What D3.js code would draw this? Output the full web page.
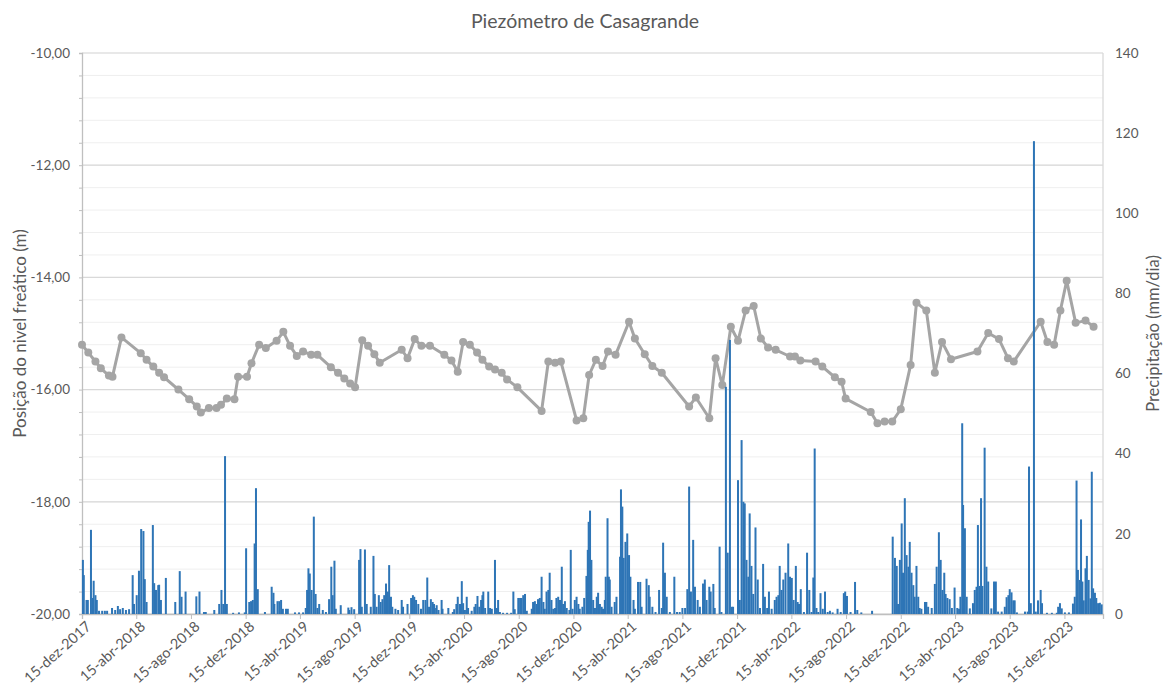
<!DOCTYPE html>
<html>
<head>
<meta charset="utf-8">
<script src="https://cdn.jsdelivr.net/npm/d3@7"></script>
<style>
body { margin: 0; background: #fff; }
text { font-family: Lato, "Noto Sans", sans-serif; fill: #595959; }
</style>
</head>
<body>
<svg id="chart" width="1163" height="687"></svg>
<script>
// Nível freático: [dias desde 15-dez-2017, posição (m)]
const nivel = [
	[0,-15.20],[14,-15.34],[30,-15.50],[42,-15.62],[60,-15.75],[68,-15.77],[88,-15.07],
	[131,-15.35],[144,-15.47],[159,-15.59],[172,-15.70],[183,-15.78],
	[215,-16.00],[239,-16.17],[256,-16.30],[265,-16.41],[283,-16.33],[300,-16.33],[310,-16.27],[323,-16.16],[340,-16.17],
	[348,-15.77],[368,-15.77],[378,-15.53],[395,-15.20],[410,-15.26],[434,-15.13],[449,-14.97],
	[464,-15.22],[479,-15.40],[493,-15.32],[511,-15.38],[525,-15.38],
	[555,-15.60],[571,-15.70],[585,-15.80],[598,-15.89],[609,-15.96],
	[625,-15.12],[638,-15.22],[652,-15.37],[664,-15.52],
	[713,-15.29],[726,-15.44],[742,-15.10],[757,-15.22],[776,-15.22],
	[808,-15.38],[824,-15.48],[838,-15.68],[850,-15.15],
	[865,-15.20],[881,-15.34],[893,-15.47],[908,-15.59],[921,-15.64],[936,-15.70],[948,-15.82],[971,-15.96],
	[1025,-16.38],[1040,-15.50],[1055,-15.52],[1068,-15.50],
	[1103,-16.55],[1118,-16.51],[1131,-15.74],[1146,-15.47],[1161,-15.58],[1173,-15.32],[1190,-15.38],
	[1220,-14.79],[1233,-15.09],[1255,-15.37],[1272,-15.58],[1293,-15.70],
	[1354,-16.30],[1369,-16.14],[1399,-16.51],[1413,-15.44],[1428,-15.92],
	[1447,-14.88],[1463,-15.13],[1480,-14.59],[1498,-14.51],[1514,-15.09],[1530,-15.25],[1547,-15.29],
	[1579,-15.41],[1590,-15.41],[1602,-15.48],[1636,-15.50],[1651,-15.59],[1679,-15.78],[1694,-15.86],[1703,-16.16],
	[1759,-16.40],[1774,-16.60],[1790,-16.57],[1807,-16.57],[1826,-16.35],
	[1848,-15.56],[1861,-14.45],[1883,-14.59],[1902,-15.70],[1918,-15.15],[1938,-15.46],
	[1997,-15.32],[2021,-14.99],[2045,-15.10],[2065,-15.44],[2078,-15.50],
	[2138,-14.79],[2153,-15.15],[2168,-15.20],[2182,-14.59],[2196,-14.06],[2216,-14.81],[2238,-14.77],[2256,-14.88]
];

// Precipitação diária: [dias desde 15-dez-2017, mm/dia]
const chuva = [
	[2,13.5],[4,9.7],[10,3.5],[13,3.5],[20,21],[24,4],[26,8.3],[30,4.7],[33,3.5],[38,0.8],[45,0.8],[51,0.8],[56,0.8],
	[67,1.5],[74,1],[80,2],[85,1.2],[91,1.5],[98,1],[105,1.2],[113,9.7],[116,2.5],[122,4.7],[127,10.8],[132,21.2],
	[137,20.7],[140,8.7],[144,3],[158,22.2],[161,7.7],[165,6],[170,7.2],[172,7.3],[176,3.5],[187,9],[208,3],[218,10.7],
	[222,4.3],[231,5.6],[255,4.4],[262,5.6],[272,0.5],[276,0.5],[295,1],[306,2.5],[311,6],[315,2.5],[319,39.4],[323,2.5],
	[337,0.3],[350,0.4],[363,0.4],[366,16.4],[373,3],[377,3.2],[381,3.5],[385,17.6],[388,31.4],[392,6.2],[408,0.5],
	[423,6.8],[427,5.3],[429,2.5],[436,3.2],[440,3.2],[444,3.5],[448,1.3],[455,1.3],[459,1.3],[475,0.4],[484,0.4],
	[493,0.4],[499,1.5],[502,6],[505,11.4],[508,10.1],[512,6],[517,24.3],[521,5],[525,1.5],[529,2.5],[537,1],[544,0.5],
	[551,3.7],[556,11.8],[559,4.7],[563,13.3],[566,1.3],[577,2.2],[594,1.6],[596,1],[601,1.7],[607,1.2],[618,13.5],
	[621,16.2],[624,1.8],[631,16.1],[635,2.5],[644,1.8],[650,14.5],[653,5],[657,1.8],[662,4.7],[666,3],[670,3.7],
	[674,4.7],[678,7.6],[682,5.6],[685,12.2],[689,4.3],[692,1.8],[699,1.3],[705,1],[713,3.5],[716,1.8],[726,2.5],
	[734,4],[738,4.7],[741,4.3],[745,3.5],[750,2.5],[756,1.3],[761,3.5],[766,3.5],[770,9.1],[774,1.8],[778,3.7],[782,3],
	[785,2.5],[787,1.5],[791,2.2],[795,1],[802,3.5],[804,1.3],[817,1.5],[827,0.5],[830,1.2],[835,2.5],[838,4.3],
	[843,2.5],[847,8.2],[850,2.7],[854,1],[858,4.3],[861,1.5],[869,0.8],[875,1.8],[878,2.5],[882,4.5],[886,1.8],
	[890,3.5],[893,4.7],[895,5.6],[899,1.5],[906,5.6],[910,1.5],[914,1.3],[921,13.5],[925,1.5],[928,3.5],[932,0.5],
	[939,0.3],[948,0.3],[957,0.3],[962,5.6],[965,1.2],[973,4],[977,4],[980,4],[984,4.7],[988,5],[992,0.8],[1003,1.3],
	[1006,3],[1010,3.2],[1014,2.5],[1017,3.7],[1021,4],[1025,9.3],[1029,3],[1032,1.3],[1036,5.6],[1040,6],[1043,10.3],
	[1047,3.5],[1051,1.3],[1055,1.5],[1058,4],[1062,4.3],[1066,3.5],[1070,11.8],[1073,2.5],[1077,3.2],[1081,1.5],
	[1087,1],[1090,16],[1094,1.3],[1099,3.5],[1103,4.3],[1107,2.5],[1110,1.3],[1116,1.8],[1120,4],[1125,9.5],[1128,16],
	[1130,23],[1133,25.8],[1136,13.5],[1140,3.5],[1144,1.5],[1148,4.3],[1151,5.3],[1155,2.5],[1159,1.8],[1162,1.3],
	[1166,3.5],[1168,9.3],[1172,23.9],[1175,9.3],[1177,8.6],[1181,1.8],[1188,3],[1192,4.3],[1200,14.3],[1202,31.1],
	[1205,26.8],[1208,14],[1212,18],[1216,20.1],[1220,14.7],[1223,9.3],[1230,3.5],[1233,1.3],[1240,8],[1245,8],
	[1248,1.8],[1259,8.8],[1264,7.2],[1266,4.3],[1272,1.8],[1279,0.5],[1287,6],[1293,1.5],[1296,17.8],[1300,10.3],
	[1304,4.3],[1311,0.5],[1321,9.3],[1327,0.5],[1333,0.5],[1339,1.5],[1345,1.5],[1350,6.2],[1354,31.8],[1358,5.6],
	[1363,18.5],[1367,6.8],[1373,3.5],[1378,1.8],[1385,7.6],[1389,8.6],[1393,3.5],[1399,6.8],[1402,5.6],[1408,7.5],
	[1411,1.5],[1422,16.8],[1426,0.5],[1436,56.7],[1440,15.3],[1445,68.4],[1449,1.8],[1452,1.8],[1463,33.4],[1467,3.5],
	[1471,43.4],[1475,28],[1478,27.6],[1482,13.5],[1486,9.3],[1489,25.1],[1493,12],[1497,5],[1502,21.6],[1507,8.6],
	[1512,1.5],[1519,12.5],[1523,4.3],[1528,1.5],[1532,5.6],[1538,1.3],[1545,3.5],[1549,4.3],[1553,4.7],[1556,12],
	[1560,6],[1564,8.6],[1569,10.3],[1575,17.6],[1579,9.3],[1583,9],[1587,3.5],[1592,12],[1596,3],[1599,2.5],[1603,6.2],
	[1610,0.5],[1617,15.3],[1622,6],[1627,0.5],[1631,9.1],[1634,41.3],[1638,1.5],[1642,0.5],[1647,5.2],[1652,1.3],
	[1657,5.6],[1663,0.5],[1668,0.8],[1674,0.4],[1685,1.3],[1692,0.5],[1699,5.2],[1702,5.6],[1706,4.5],[1714,0.5],
	[1724,8],[1729,1],[1738,0.4],[1762,0.8],[1808,19.3],[1813,14],[1817,12],[1820,2.5],[1824,13.5],[1828,22.6],
	[1831,10.3],[1835,28.9],[1839,14.7],[1843,11.8],[1846,18],[1850,10.3],[1854,7.2],[1857,4.3],[1861,12],[1865,4.3],
	[1868,1.5],[1872,1.3],[1880,3],[1883,3],[1887,1.8],[1895,1.5],[1902,7.5],[1906,11.8],[1911,20.4],[1915,13.5],
	[1919,6],[1923,10.3],[1926,5],[1930,4],[1935,3.7],[1940,1.5],[1946,6.6],[1952,1.5],[1956,1.3],[1959,4.3],
	[1963,47.6],[1965,27.2],[1969,21.4],[1973,4.3],[1980,1.4],[1987,2.7],[1991,6],[1995,6.8],[1998,22.2],[2002,7],
	[2005,28.9],[2008,7],[2013,41.5],[2017,11.8],[2021,8.1],[2028,1.4],[2034,8.1],[2038,8.1],[2043,0.6],[2051,0.6],
	[2058,1.8],[2062,4.2],[2066,4.7],[2069,6.2],[2073,5.4],[2077,3.4],[2080,3.4],[2085,0.4],[2103,0.6],[2109,0.6],
	[2112,36.8],[2116,2.7],[2123,118],[2127,0.6],[2132,3.4],[2138,6],[2141,2.7],[2152,0.3],[2163,0.3],[2174,0.3],
	[2177,1.8],[2181,2.7],[2185,1.4],[2192,0.4],[2201,0.4],[2210,2.6],[2214,4.3],[2218,33.3],[2221,11],[2225,8.5],
	[2228,23.6],[2231,8.1],[2234,3.4],[2238,11.4],[2241,14.5],[2245,8.5],[2249,3.9],[2252,35.5],[2255,6.4],[2259,5.3],
	[2262,4],[2266,2.7],[2270,2.8],[2274,2.4]
];

const meses = ['jan','fev','mar','abr','mai','jun','jul','ago','set','out','nov','dez'];
const nivelTicks = [-20, -18, -16, -14, -12, -10];
const chuvaTicks = [0, 20, 40, 60, 80, 100, 120, 140];

const inicio = new Date(2017, 11, 15);
const fim = new Date(2024, 2, 10);

const W = 1163, H = 687;
const margin = {top: 53, right: 60, bottom: 73, left: 82};

var svg = d3.select("#chart");

var x = d3.scaleTime().domain([inicio, fim]).range([margin.left, W - margin.right]);
var y = d3.scaleLinear().domain([-20, -10]).range([H - margin.bottom, margin.top]);
var y2 = d3.scaleLinear().domain([0, 140]).range([H - margin.bottom, margin.top]);

function dia(d) {
	return d3.timeDay.offset(inicio, d);
}

function fmtData(d) {
	return '15-' + meses[d.getMonth()] + '-' + d.getFullYear();
}

// gridlines (menores a cada 0,4 m, maiores a cada 2 m)
var minor = d3.range(-20, -9.99, 0.4);
svg.append("g").selectAll("line")
	.data(minor)
	.enter()
	.append("line")
	.attr("x1", margin.left).attr("x2", W - margin.right)
	.attr("y1", d => y(d)).attr("y2", d => y(d))
	.attr("stroke", "#efefef").attr("stroke-width", 1);

svg.append("g").selectAll("line")
	.data(nivelTicks)
	.enter()
	.append("line")
	.attr("x1", margin.left).attr("x2", W - margin.right)
	.attr("y1", d => y(d)).attr("y2", d => y(d))
	.attr("stroke", "#d9d9d9").attr("stroke-width", 1.2);

// eixo X
var xTicks = d3.range(0, 19).map(i => d3.timeMonth.offset(inicio, 4 * i));
var gx = svg.append("g")
	.attr("transform", "translate(0," + (H - margin.bottom) + ")")
	.call(d3.axisBottom(x).tickValues(xTicks).tickFormat(fmtData).tickSize(5).tickPadding(4));
gx.select(".domain").attr("stroke", "#bfbfbf").attr("stroke-width", 1.3);
gx.selectAll(".tick line").attr("stroke", "#bfbfbf");
gx.selectAll("text")
	.attr("y", 0)
	.attr("font-size", "14.5px")
	.attr("fill", "#595959")
	.attr("text-anchor", "end")
	.attr("transform", "translate(6,10) rotate(-42)")
	.attr("dy", "0.35em");

// eixo Y esquerdo
var gy = svg.append("g")
	.attr("transform", "translate(" + margin.left + ",0)")
	.call(d3.axisLeft(y).tickValues(minor).tickSize(3).tickFormat(d => ""));
gy.select(".domain").attr("stroke", "#bfbfbf").attr("stroke-width", 1.3);
gy.selectAll(".tick line").attr("stroke", "#bfbfbf");

svg.append("g").selectAll("text")
	.data(nivelTicks)
	.enter()
	.append("text")
	.attr("x", margin.left - 12)
	.attr("y", d => y(d))
	.attr("dy", "0.35em")
	.attr("text-anchor", "end")
	.attr("font-size", "13.5px")
	.text(d => d.toFixed(2).replace('.', ','));

// eixo Y direito
svg.append("line")
	.attr("x1", W - margin.right).attr("x2", W - margin.right)
	.attr("y1", margin.top).attr("y2", H - margin.bottom)
	.attr("stroke", "#d9d9d9").attr("stroke-width", 1.3);

svg.append("g").selectAll("text")
	.data(chuvaTicks)
	.enter()
	.append("text")
	.attr("x", W - margin.right + 12)
	.attr("y", d => y2(d))
	.attr("dy", "0.35em")
	.attr("font-size", "13.5px")
	.text(d => d);

// linha do piezómetro
var linha = d3.line()
	.x(d => x(dia(d[0])))
	.y(d => y(d[1]));

svg.append("path")
	.datum(nivel)
	.attr("d", linha)
	.attr("fill", "none")
	.attr("stroke", "#a5a5a5")
	.attr("stroke-width", 3)
	.attr("stroke-linejoin", "round");

svg.append("g").selectAll("circle")
	.data(nivel)
	.enter()
	.append("circle")
	.attr("cx", d => x(dia(d[0])))
	.attr("cy", d => y(d[1]))
	.attr("r", 4)
	.attr("fill", "#a5a5a5");

// barras de precipitação (eixo secundário, desenhadas por cima)
svg.append("g").selectAll("rect")
	.data(chuva)
	.enter()
	.append("rect")
	.attr("x", d => x(dia(d[0])) - 1)
	.attr("y", d => y2(d[1]))
	.attr("width", 2)
	.attr("height", d => y2(0) - y2(d[1]))
	.attr("fill", "#2e75b6");

// títulos
svg.append("text")
	.attr("x", 585).attr("y", 28)
	.attr("text-anchor", "middle")
	.attr("font-size", "19.5px")
	.text("Piezómetro de Casagrande");

svg.append("text")
	.attr("transform", "translate(26," + ((margin.top + H - margin.bottom) / 2) + ") rotate(-90)")
	.attr("text-anchor", "middle")
	.attr("font-size", "17px")
	.text("Posição do nivel freático (m)");

svg.append("text")
	.attr("transform", "translate(1159," + ((margin.top + H - margin.bottom) / 2) + ") rotate(-90)")
	.attr("text-anchor", "middle")
	.attr("font-size", "16.5px")
	.text("Precipitação (mm/dia)");
</script>
</body>
</html>
